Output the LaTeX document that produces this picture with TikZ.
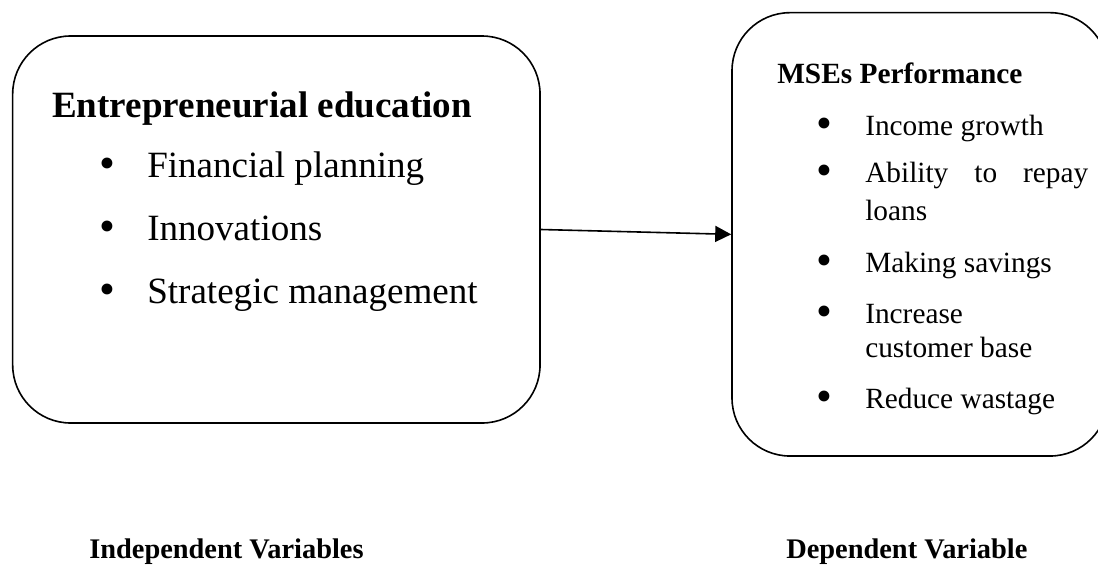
\documentclass[tikz,border=0pt]{standalone}
\usepackage{fontspec}
\setmainfont{Liberation Serif}
\usetikzlibrary{arrows.meta}

\tikzset{
  panel/.style={draw, line width=1.2pt, rounded corners=43.5pt, inner sep=0pt},
  headL/.style={anchor=base west, inner sep=0pt, font=\fontsize{27.8}{33}\selectfont\bfseries},
  itemL/.style={anchor=base west, inner sep=0pt, font=\fontsize{27.8}{33}\selectfont},
  headR/.style={anchor=base west, inner sep=0pt, font=\fontsize{22}{26}\selectfont\bfseries},
  itemR/.style={anchor=base west, inner sep=0pt, font=\fontsize{22}{26}\selectfont},
  dot/.style={anchor=center, inner sep=0pt, font=\fontsize{34}{40}\selectfont},
  foot/.style={anchor=base west, inner sep=0pt, font=\fontsize{21.3}{25}\selectfont\bfseries}
}

\begin{document}
\begin{tikzpicture}[x=0.75pt, y=-0.75pt]
    \clip (0,0) rectangle (1098,578);

    % Independent variable box (left)
    \node[panel, minimum width=395.5pt, minimum height=290.25pt] (edu) at (276.35,229.5) {};
    \node[headL] (eduhead) at (52,117) {Entrepreneurial education};
    \foreach \txt [count=\i] in {Financial planning, Innovations, Strategic management} {
        \node[dot] (edub\i) at (107,{105+63*\i}) {•};
        \node[itemL] (edui\i) at (147,{114+63*\i}) {\txt};
    }

    % Dependent variable box (right, runs off the edge)
    \node[panel, minimum width=282pt, minimum height=332.5pt] (mse) at (920,234.35) {};
    \node[headR] (msehead) at (777,83) {MSEs Performance};
    \foreach \y [count=\i] in {135,182,272,323,408}
        \node[dot] (mseb\i) at (824,\y-7) {•};
    \foreach \y/\txt [count=\i] in {135/Income growth, 182/{\makebox[167.25pt][s]{Ability to repay}},
        220/loans, 272/Making savings, 323/Increase, 357/customer base, 408/Reduce wastage}
        \node[itemR] (msei\i) at (865,\y) {\txt};

    % Relationship
    \draw[line width=1.2pt, -{Triangle[length=12pt,width=12pt]}] (edu.east) -- (mse.west);

    % Captions
    \node[foot] (indep) at (89,558) {Independent Variables};
    \node[foot] (dep) at (786,558) {Dependent Variable};
\end{tikzpicture}
\end{document}
